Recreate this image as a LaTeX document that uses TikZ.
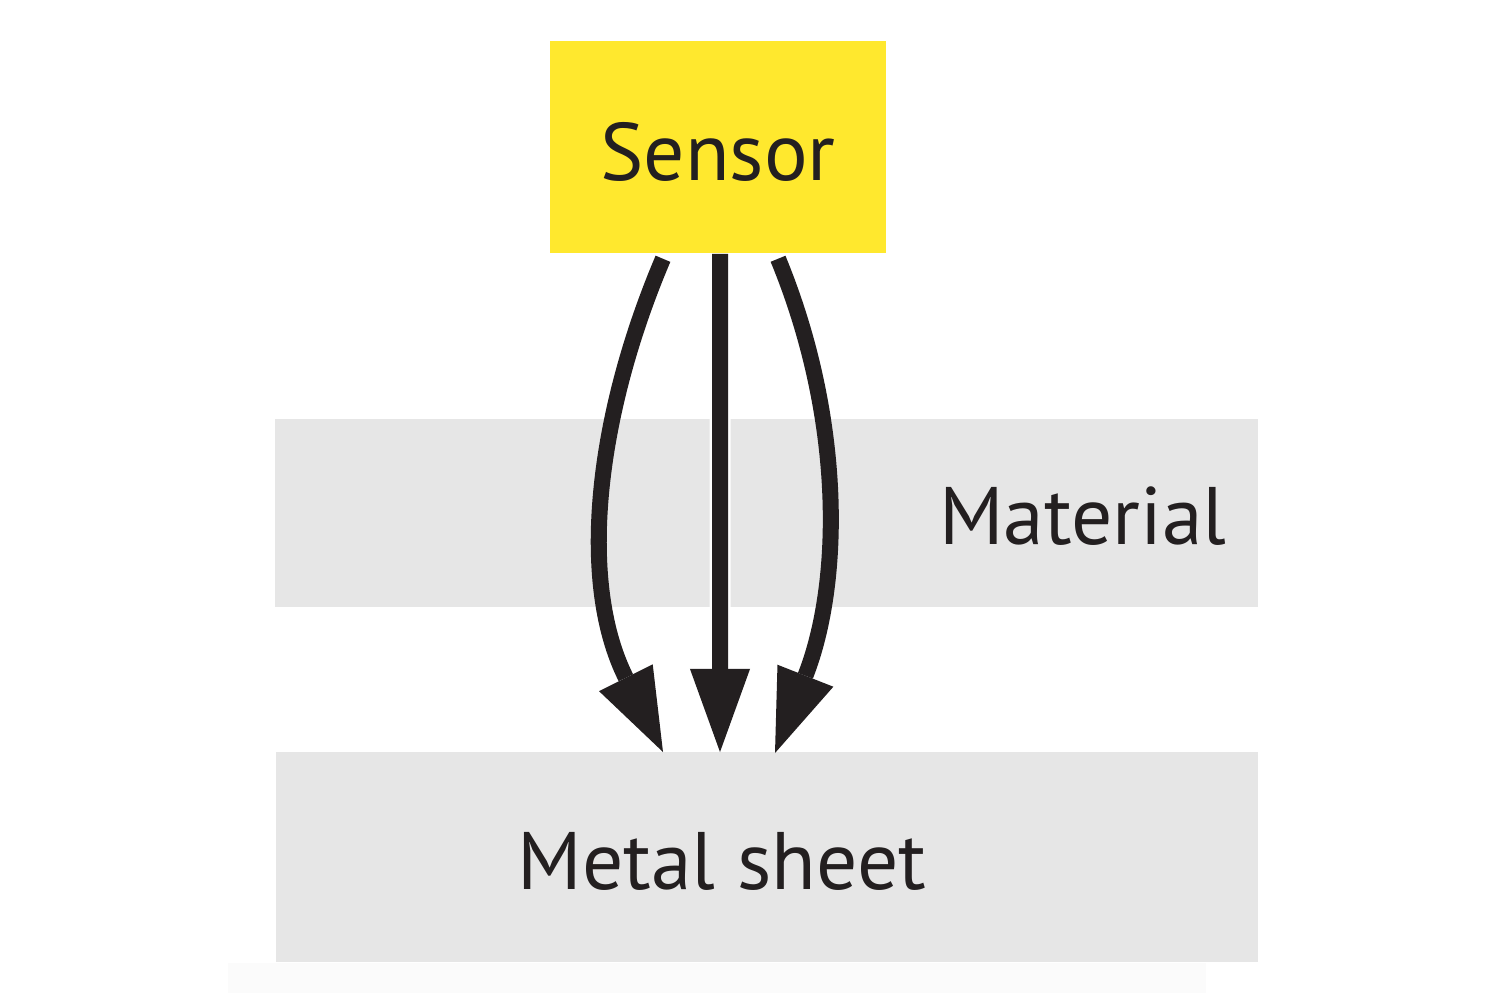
\documentclass[tikz,border=0pt]{standalone}
\usepackage{fontspec}
\setmainfont{PT Sans}
\usetikzlibrary{arrows.meta}
\definecolor{sensoryellow}{HTML}{FFE82E}
\definecolor{bandgray}{HTML}{E6E6E6}
\definecolor{ink}{HTML}{231F20}
\definecolor{faint}{HTML}{FBFBFB}
\begin{document}
\begin{tikzpicture}[x=0.01cm,y=-0.01cm,
  sensorbox/.style={fill=sensoryellow, draw=none, minimum width=3.36cm, minimum height=2.12cm,
    inner sep=0pt, font=\fontsize{23.2pt}{28pt}\selectfont, text=ink, text height=0.66cm, text depth=0pt},
  band/.style={fill=bandgray, draw=none, inner sep=0pt, anchor=north west},
  lbl/.style={font=\fontsize{23.2pt}{28pt}\selectfont, text=ink, anchor=base, inner sep=0pt},
  arrowline/.style={draw=ink, line width=0.16cm,
    -{Triangle[length=0.83cm,width=0.6cm,line width=0pt]}},
  halo/.style={draw=white, line width=0.21cm},
]
\useasboundingbox (0,0) rectangle (1500,1000);
\fill[white] (0,0) rectangle (1500,1000);
\fill[faint] (228,963) rectangle (1206,993);
\node[band, minimum width=9.83cm, minimum height=1.88cm] (material) at (274,418) {};
\node[band, minimum width=9.82cm, minimum height=2.10cm] (metal) at (275,751) {};
\node[lbl] (matlabel) at (1083,544) {Material};
\node[lbl] (metallabel) at (722,889) {Metal sheet};
\node[sensorbox] (sensor) at (718,147) {Sensor};
\coordinate (startL) at ([xshift=-0.55cm,yshift=-0.05cm]sensor.south);
\coordinate (startC) at ([xshift=0.02cm]sensor.south);
\coordinate (startR) at ([xshift=0.60cm,yshift=-0.05cm]sensor.south);
\coordinate (tipL) at (663,752);
\coordinate (tipC) at (720,752);
\coordinate (tipR) at (775,753);
\draw[halo] (startC) -- ([yshift=0.80cm]tipC);
\draw[arrowline] (startC) -- (tipC);
\draw[arrowline] (startL) .. controls (597,414) and (577,580) .. (tipL);
\draw[arrowline] (startR) .. controls (844.5,420) and (841.7,583.5) .. (tipR);
\end{tikzpicture}
\end{document}
